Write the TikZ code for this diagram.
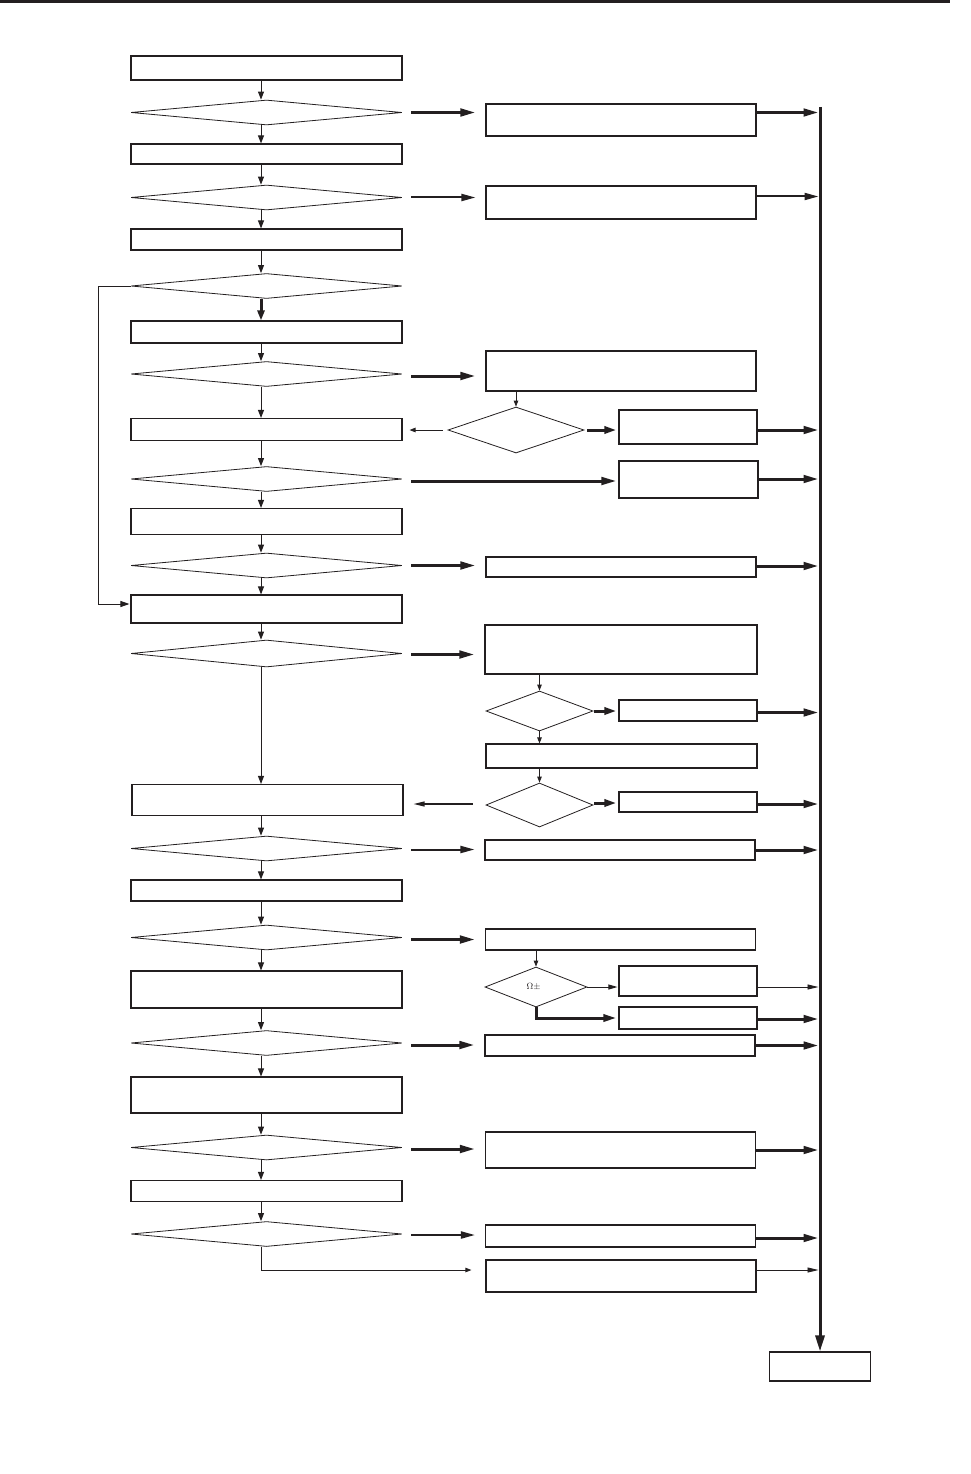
\documentclass[tikz,border=0pt]{standalone}
\usetikzlibrary{arrows.meta,shapes.geometric,calc}
\definecolor{ink}{HTML}{231F20}
\begin{document}
\begin{tikzpicture}[x=1pt,y=-1pt,
  box/.style={draw=ink, line width=1.1pt, inner sep=0pt, minimum width=271pt},
  rbox/.style={box, minimum width=270pt},
  sbox/.style={box, minimum width=138pt},
  dia/.style={draw=ink, line width=0.8pt, shape=diamond, inner sep=0pt, minimum width=271pt, minimum height=25pt},
  sdia/.style={draw=ink, line width=0.8pt, shape=diamond, inner sep=0pt},
  downarr/.style={draw=ink, line width=1pt, -{Triangle[length=8pt,width=6pt]}},
  thinarr/.style={draw=ink, line width=0.9pt, -{Triangle[length=6pt,width=4.5pt]}},
  medarr/.style={draw=ink, line width=2pt, -{Triangle[length=14pt,width=7pt]}},
  thickarr/.style={draw=ink, line width=3pt, -{Triangle[length=15pt,width=7.5pt]}},
  shortarr/.style={draw=ink, line width=3pt, -{Triangle[length=12pt,width=7pt]}},
  busline/.style={draw=ink, line width=3pt, -{Triangle[length=16pt,width=9pt]}}
]
\useasboundingbox (0,0) rectangle (970,1474);
% top rule
\draw[ink, line width=2.6pt] (0,1.3) -- (950,1.3);
\coordinate (axis) at (261,0);
\coordinate (bus) at (820,107);

% left column
\node[box, minimum height=24pt] (L1) at (266.5,68) {};
\node[dia] (L2) at (266.5,112.5) {};
\node[box, minimum height=20pt] (L3) at (266.5,154) {};
\node[dia] (L4) at (266.5,197.5) {};
\node[box, minimum height=21pt] (L5) at (266.5,239.5) {};
\node[dia] (L6) at (266.5,286) {};
\node[box, minimum height=22pt] (L7) at (266.5,332) {};
\node[dia] (L8) at (266.5,374) {};
\node[box, minimum height=22pt] (L9) at (266.5,429.5) {};
\node[dia] (L10) at (266.5,479) {};
\node[box, minimum height=26pt] (L11) at (266.5,521.5) {};
\node[dia] (L12) at (266.5,565.5) {};
\node[box, minimum height=28pt] (L13) at (266.5,609) {};
\node[dia, minimum height=27pt] (L14) at (266.5,653.5) {};
\node[box, minimum height=31pt] (L15) at (267.5,800) {};
\node[dia] (L16) at (266.5,848.5) {};
\node[box, minimum height=21pt] (L17) at (266.5,890.5) {};
\node[dia] (L18) at (266.5,937.5) {};
\node[box, minimum height=37pt] (L19) at (266.5,989.5) {};
\node[dia] (L20) at (266.5,1043) {};
\node[box, minimum height=36pt] (L21) at (266.5,1095) {};
\node[dia] (L22) at (266.5,1147.5) {};
\node[box, minimum height=21pt] (L23) at (266.5,1191) {};
\node[dia] (L24) at (266.5,1234) {};

% right column
\node[rbox, minimum height=32pt] (R1) at (621,120) {};
\node[rbox, minimum height=33pt] (R2) at (621,202.5) {};
\node[rbox, minimum height=40pt] (R3) at (621,371) {};
\node[sdia, minimum width=136pt, minimum height=46pt] (D1) at (516,430) {};
\node[sbox, minimum height=34pt] (R4) at (688,427) {};
\node[sbox, minimum width=139pt, minimum height=37pt] (R5) at (688.5,479.5) {};
\node[rbox, minimum height=20pt] (R6) at (621,567) {};
\node[rbox, minimum width=272pt, minimum height=49pt] (R7) at (621,649.5) {};
\node[sdia, minimum width=107pt, minimum height=40pt] (D2) at (539.5,711) {};
\node[sbox, minimum height=21pt] (R8) at (688,710.5) {};
\node[rbox, minimum width=271pt, minimum height=24pt] (R9) at (621.5,756) {};
\node[sdia, minimum width=107pt, minimum height=44pt] (D3) at (539.5,805) {};
\node[sbox, minimum height=20pt] (R10) at (688,802) {};
\node[rbox, minimum height=20pt] (R11) at (620,850) {};
\node[rbox, minimum height=21pt] (R12) at (620.5,939.5) {};
\node[sdia, minimum width=102pt, minimum height=40pt, font=\fontsize{9.5}{10}\selectfont, text=ink] (D4) at (536,987) {\hspace*{-5pt}$\Omega\pm$};
\node[sbox, minimum height=30pt] (R13) at (688,981) {};
\node[sbox, minimum height=22pt] (R14) at (688,1018) {};
\node[rbox, minimum height=21pt] (R15) at (620,1045.5) {};
\node[rbox, minimum height=36pt] (R16) at (620.5,1150) {};
\node[rbox, minimum height=22pt] (R17) at (620.5,1236) {};
\node[rbox, minimum height=32pt] (R18) at (621,1276) {};
\node[box, minimum width=101pt, minimum height=29pt] (End) at (820,1366.5) {};

% main column down arrows
\foreach \a/\b in {L1/L2,L2/L3,L3/L4,L4/L5,L5/L6,L7/L8,L8/L9,L9/L10,L10/L11,L11/L12,L12/L13,L13/L14,L14/L15,L15/L16,L16/L17,L17/L18,L18/L19,L19/L20,L20/L21,L21/L22,L22/L23,L23/L24}
  \draw[downarr] (\a.south -| axis) -- (\b.north -| axis);
\draw[draw=ink, line width=3pt, -{Triangle[length=10pt,width=7pt]}] (L6.south -| axis) -- (L7.north -| axis);

% loop on the left
\draw[thinarr, -{Triangle[length=9pt,width=6pt]}, shorten >=1pt] (L6.west) -- ++(-32,0) |- ([yshift=5pt]L13.west);

% diamonds to right column
\draw[thickarr, shorten <=9pt, shorten >=10pt] (L2.east) -- (L2.east -| R1.west);
\draw[medarr, shorten <=9pt, shorten >=10pt] (L4.east) -- (L4.east -| R2.west);
\draw[thickarr, shorten <=9pt, shorten >=10pt] ([yshift=-2pt]L8.east) -- ([yshift=-2pt]L8.east -| R3.west);
\draw[thickarr, shorten <=9pt, shorten >=2pt] ([yshift=-2pt]L10.east) -- ([yshift=-2pt]L10.east -| R5.west);
\draw[thickarr, shorten <=9pt, shorten >=10pt] (L12.east) -- (L12.east -| R6.west);
\draw[thickarr, shorten <=9pt, shorten >=10pt] ([yshift=-1pt]L14.east) -- ([yshift=-1pt]L14.east -| R7.west);
\draw[medarr, shorten <=9pt, shorten >=10pt] ([yshift=-1pt]L16.east) -- ([yshift=-1pt]L16.east -| R11.west);
\draw[thickarr, shorten <=9pt, shorten >=10pt] ([yshift=-2pt]L18.east) -- ([yshift=-2pt]L18.east -| R12.west);
\draw[thickarr, shorten <=9pt, shorten >=10pt] ([yshift=-2pt]L20.east) -- ([yshift=-2pt]L20.east -| R15.west);
\draw[thickarr, shorten <=9pt, shorten >=10pt] ([yshift=-1.5pt]L22.east) -- ([yshift=-1.5pt]L22.east -| R16.west);
\draw[medarr, shorten <=9pt, shorten >=10pt] ([yshift=-1pt]L24.east) -- ([yshift=-1pt]L24.east -| R17.west);
\draw[thinarr, shorten >=14pt] (L24.south -| axis) |- ([yshift=6pt]R18.west);

% right column internal
\draw[thinarr] (R3.south -| D1.north) -- (D1.north);
\draw[thinarr, shorten <=5pt, shorten >=7pt] (D1.west) -- (D1.west -| L9.east);
\draw[shortarr, shorten <=3pt, shorten >=2pt] (D1.east) -- (D1.east -| R4.west);
\draw[thinarr] (R7.south -| D2.north) -- (D2.north);
\draw[shortarr, shorten <=1pt, shorten >=2pt] (D2.east) -- (D2.east -| R8.west);
\draw[thinarr] (D2.south) -- (D2.south |- R9.north);
\draw[thinarr] (R9.south -| D3.north) -- (D3.north);
\draw[draw=ink, line width=1.2pt, -{Triangle[length=11pt,width=5pt]}, shorten <=13pt, shorten >=10pt] ([yshift=1pt]D3.west) -- ([yshift=1pt]D3.west -| L15.east);
\draw[shortarr, shorten <=1pt, shorten >=2pt] ([yshift=2pt]D3.east) -- ([yshift=2pt]D3.east -| R10.west);
\draw[thinarr] (R12.south -| D4.north) -- (D4.north);
\draw[thinarr, -{Triangle[length=9pt,width=5pt]}, shorten >=1pt] (D4.east) -- (D4.east -| R13.west);
\draw[draw=ink, line width=3pt, -{Triangle[length=13pt,width=7pt]}, shorten >=2pt] (D4.south) |- (R14.west);

% to the bus
\draw[thickarr, shorten >=1.5pt] (R1.east |- L2.east) -- (L2.east -| bus);
\draw[medarr, shorten >=1.5pt] ([yshift=1pt]R2.east |- L4.east) -- ([yshift=1pt]L4.east -| bus);
\draw[thickarr, shorten >=1.5pt] (R4.east |- D1.east) -- (D1.east -| bus);
\draw[thickarr, shorten >=1.5pt] (R5.east |- L10.east) -- (L10.east -| bus);
\draw[thickarr, shorten >=1.5pt] ([yshift=1pt]R6.east) -- ([yshift=1pt]R6.east -| bus);
\draw[thickarr, shorten >=1.5pt] ([yshift=-2pt]R8.east) -- ([yshift=-2pt]R8.east -| bus);
\draw[thickarr, shorten >=1.5pt] ([yshift=-2pt]R10.east) -- ([yshift=-2pt]R10.east -| bus);
\draw[thickarr, shorten >=1.5pt] (R11.east) -- (R11.east -| bus);
\draw[thinarr, -{Triangle[length=11pt,width=5pt]}, shorten >=1.5pt] (R13.east |- D4.east) -- (D4.east -| bus);
\draw[thickarr, shorten >=1.5pt] ([yshift=-1pt]R14.east) -- ([yshift=-1pt]R14.east -| bus);
\draw[thickarr, shorten >=1.5pt] (R15.east) -- (R15.east -| bus);
\draw[thickarr, shorten >=1.5pt] (R16.east) -- (R16.east -| bus);
\draw[thickarr, shorten >=1.5pt] ([yshift=-2pt]R17.east) -- ([yshift=-2pt]R17.east -| bus);
\draw[thinarr, -{Triangle[length=11pt,width=5pt]}, shorten >=1.5pt] ([yshift=6pt]R18.east) -- ([yshift=6pt]R18.east -| bus);

% bus
\draw[busline] (bus) -- (End.north);
\end{tikzpicture}
\end{document}
